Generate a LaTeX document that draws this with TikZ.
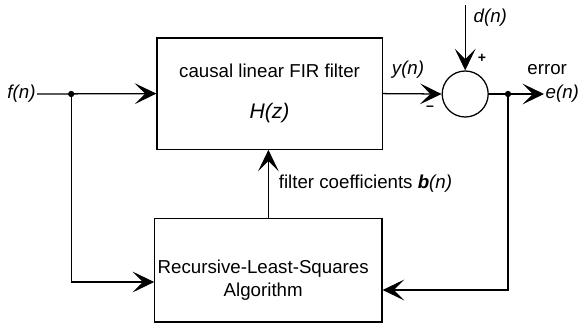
\documentclass[tikz,border=0pt]{standalone}
\usepackage{fontspec}
\setmainfont{Liberation Sans}
\usetikzlibrary{arrows.meta,calc,positioning}
\tikzset{
  block/.style={
    draw, line width=0.9pt, minimum width=5.63cm, minimum height=2.78cm,
    align=center, font=\fontsize{13.3}{16}\selectfont
  },
  summer/.style={circle, draw, line width=0.9pt, minimum size=1.15cm, inner sep=0pt},
  sig/.style={font=\fontsize{13.3}{16}\selectfont\itshape, inner sep=1pt},
  txt/.style={font=\fontsize{13.3}{16}\selectfont, inner sep=1pt},
  sign/.style={font=\fontsize{10}{11}\selectfont\bfseries, inner sep=0pt},
  flow/.style={-{Stealth[length=5.4mm,width=5.2mm,inset=2.6mm,line width=0.7pt]}, line width=0.9pt},
  dot/.style={circle, fill, inner sep=0pt, minimum size=4.5pt}
}

\begin{document}
\begin{tikzpicture}[x=1cm,y=1cm]
    \useasboundingbox (0,0) rectangle (14.55,8.1);
    \node[block] (fir) at (6.74,5.76)
      {causal linear FIR filter\\[0.45cm]{\fontsize{15}{18}\selectfont\itshape H(z)}};
    \node[block,minimum width=5.68cm,minimum height=2.58cm] (rls) at (6.71,1.34) {};
    \node[txt,align=center] (rlstxt) at (6.58,1.1) {Recursive-Least-Squares\\Algorithm};
    \node[summer] (sum) at (11.63,5.75) {};

    \node[sig,anchor=east] (fn) at (0.93,5.75) {f(n)};
    \node[sig,anchor=west] (en) at (13.6,5.75) {e(n)};
    \node[txt] (err) at (13.68,6.35) {error};
    \node[sig] (yn) at (10.2,6.35) {y(n)};
    \node[sig,anchor=west] (dn) at (11.8,7.65) {d(n)};
    \node[sign] (plus) at (12.05,6.63) {+};
    \node[sign] (minus) at (10.75,5.4) {--};
    \node[txt,anchor=west] (coef) at (6.93,3.5)
      {filter coefficients \textbf{\textit{b}}\textit{(n)}};

    \node[dot] (jl) at (1.78,5.75) {};
    \node[dot] (jr) at (12.7,5.75) {};
    \coordinate (lc) at (1.78,1.05);
    \coordinate (rc) at (12.7,0.85);
    \coordinate (dtop) at (11.63,7.98);

    \draw[flow] (fn.east) -- (fir.west);
    \draw[flow] (jl.center) -- (lc) -- (lc -| rls.west);
    \draw[flow] (fir.east) -- (sum.west);
    \draw[flow] (dtop) -- (sum.north);
    \draw[flow] (sum.east) -- (en.west);
    \draw[flow] (jr.center) -- (rc) -- (rc -| rls.east);
    \draw[flow] (rls.north) -- (rls.north |- fir.south);
  \end{tikzpicture}
\end{document}
